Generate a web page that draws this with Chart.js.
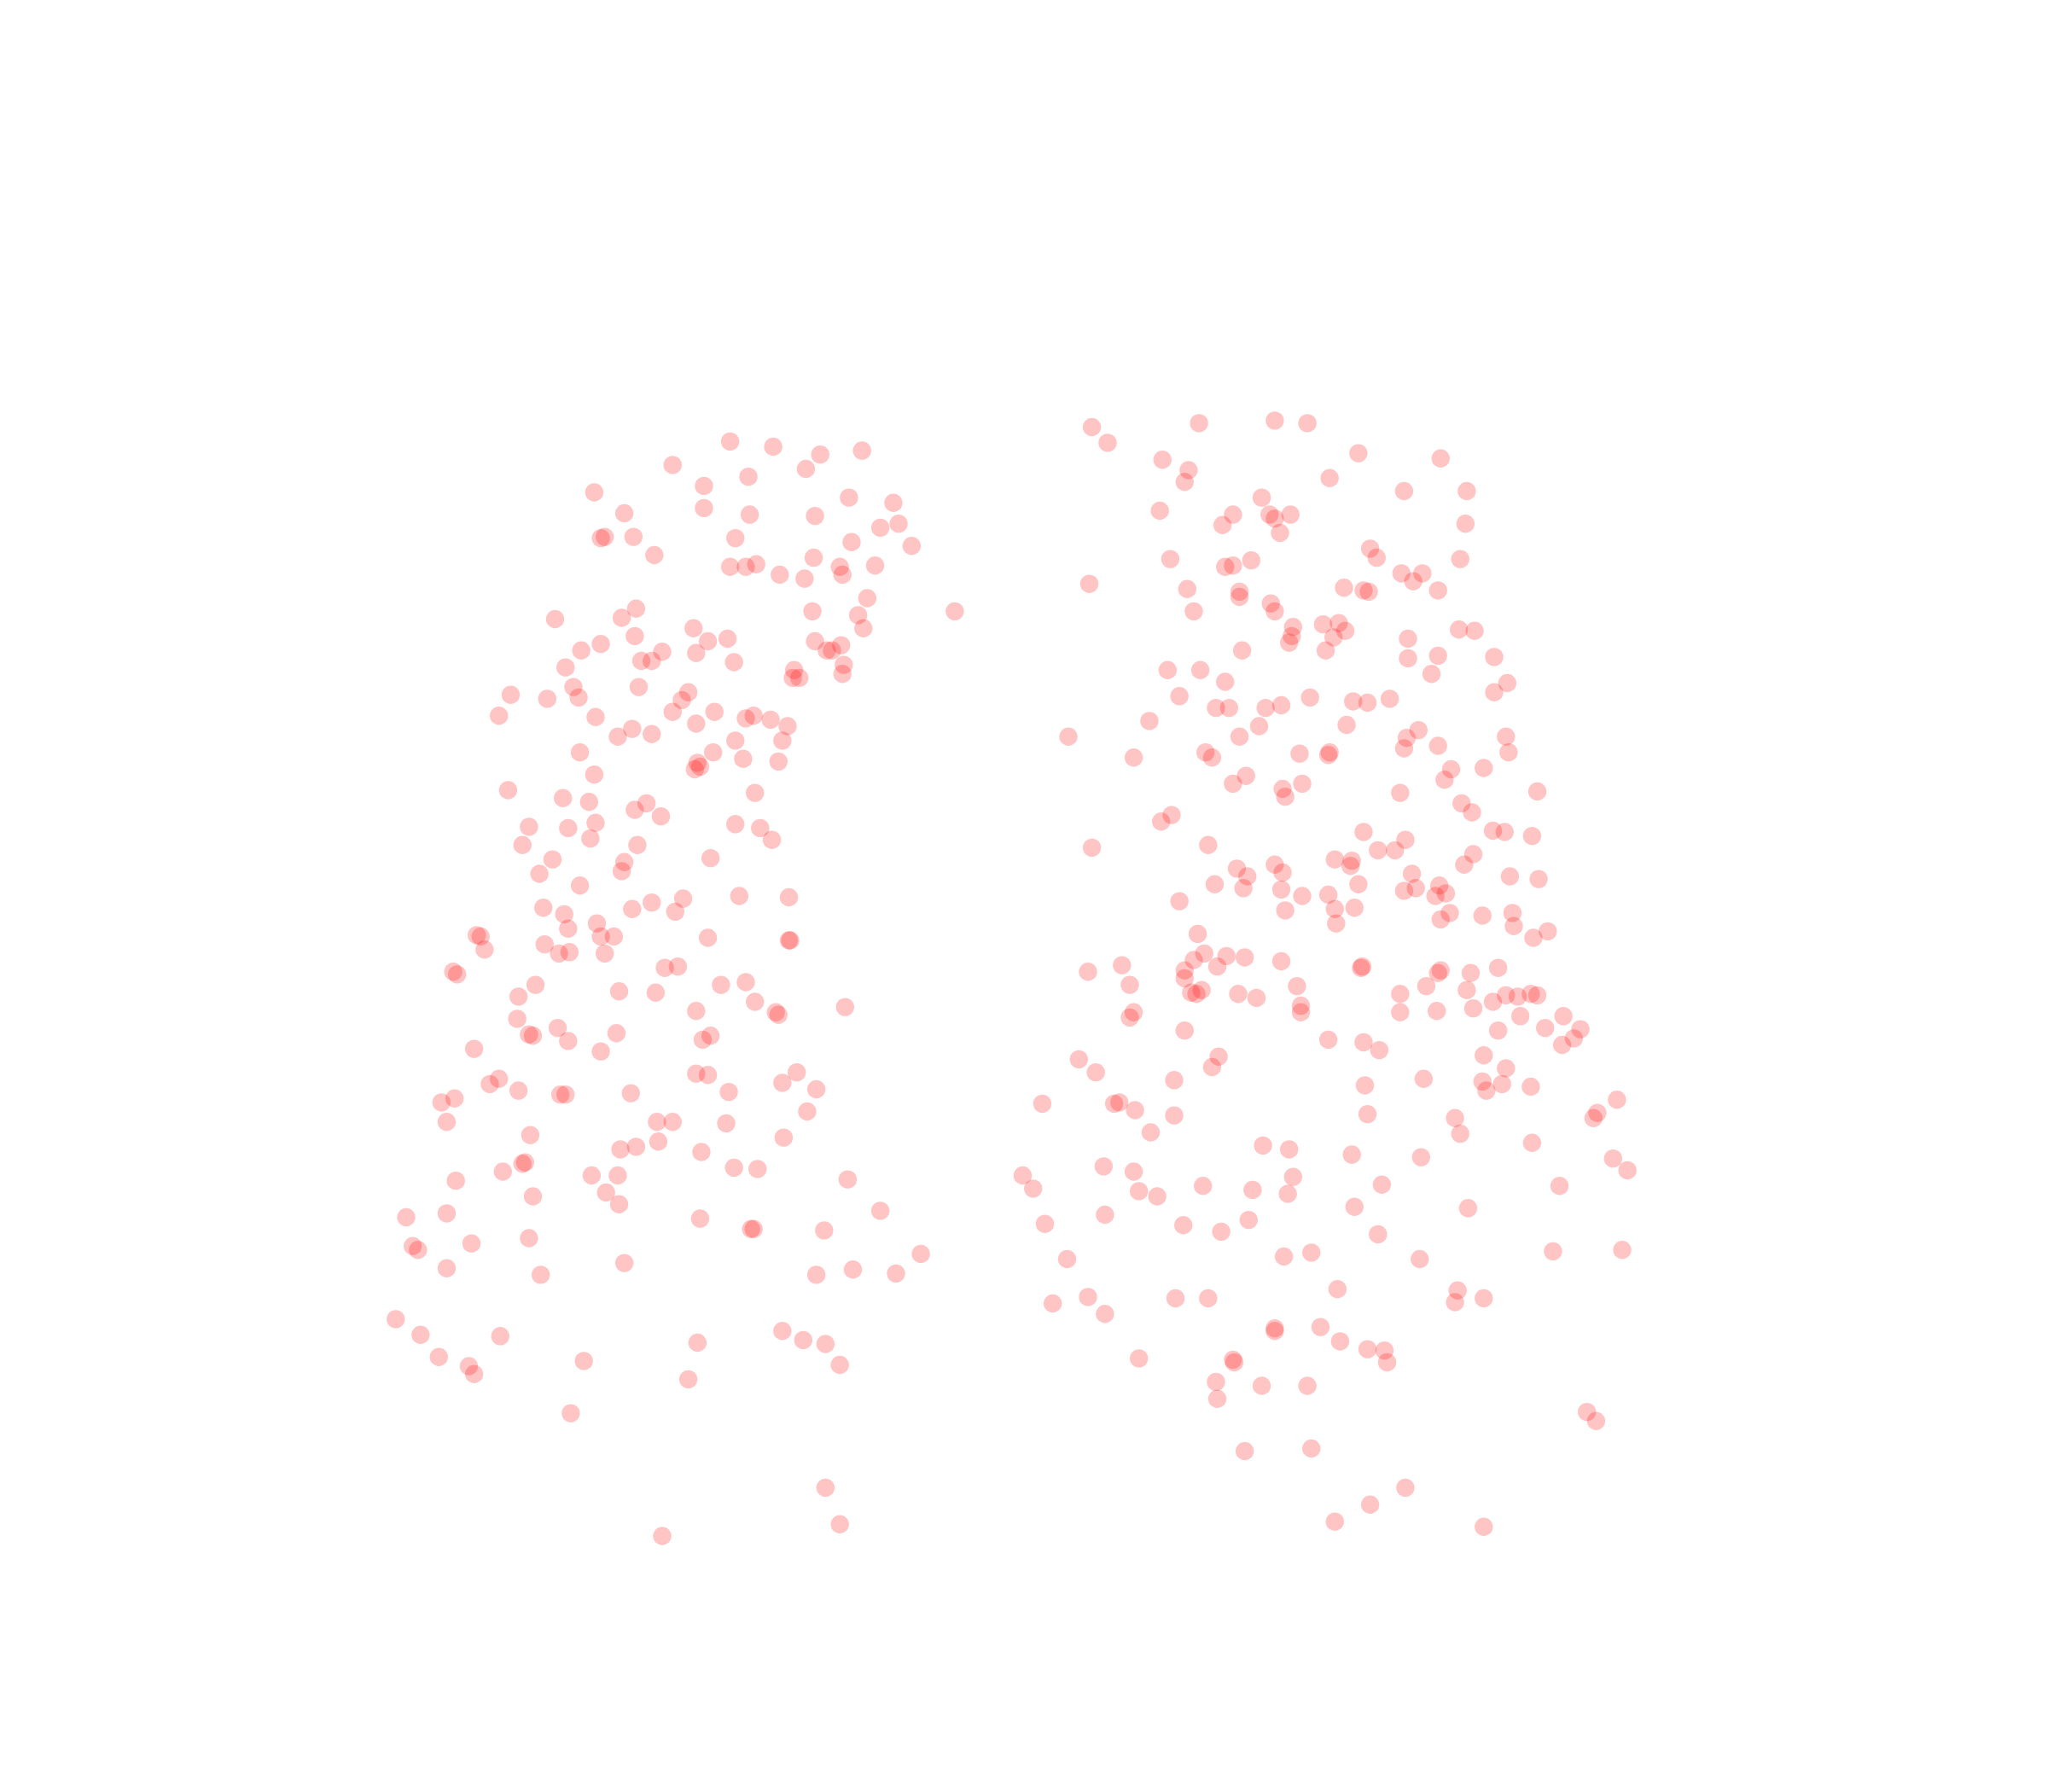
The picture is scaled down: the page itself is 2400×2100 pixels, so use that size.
<!DOCTYPE html>
<html>
<head>
<meta charset="utf-8">
<script src="https://cdn.jsdelivr.net/npm/chart.js@4"></script>
<style>
  html, body { margin: 0; padding: 0; background: #fff; }
  #wrap { width: 2400px; height: 2100px; }
</style>
</head>
<body>
<div id="wrap"><canvas id="chart"></canvas></div>
<script>
// values, as [x, y]
const leftPoints = [
  [559,338],[592,342],[628,348],[660,345],[515,356],[617,359],[573,365],[539,372],[455,377],[650,381],
  [684,385],[539,389],[478,393],[574,394],[624,395],[688,401],[674,404],[460,412],[463,411],[485,411],
  [563,412],[652,415],[698,418],[501,425],[623,427],[559,434],[571,434],[579,432],[643,434],[670,433],
  [597,440],[616,443],[645,440],[664,458],[731,468],[622,468],[657,471],[661,481],[425,474],[476,473],
  [487,466],[531,481],[486,487],[557,489],[542,491],[460,493],[624,491],[644,494],[633,498],[637,498],
  [445,498],[507,499],[533,500],[491,506],[499,506],[562,507],[646,509],[433,511],[608,513],[645,516],
  [607,519],[612,519],[439,526],[489,526],[527,530],[391,532],[443,534],[419,535],[522,536],[515,545],
  [547,545],[382,548],[456,549],[571,550],[577,548],[590,551],[533,554],[603,556],[484,558],[499,562],
  [473,564],[563,567],[599,567],[444,576],[546,576],[569,581],[596,583],[534,584],[536,587],[532,589],
  [455,593],[389,605],[578,607],[431,611],[451,614],[495,615],[486,620],[506,625],[456,630],[563,631],
  [405,633],[435,634],[582,634],[591,643],[452,642],[400,647],[488,647],[423,658],[544,657],[478,660],
  [476,667],[413,669],[444,678],[566,686],[604,687],[523,688],[499,691],[484,696],[416,695],[517,698],
  [432,700],[457,707],[435,711],[365,716],[368,717],[460,717],[470,717],[542,718],[604,720],[605,720],
  [417,723],[371,727],[428,730],[436,729],[463,730],[519,740],[509,741],[347,744],[350,746],[410,754],
  [552,754],[571,752],[474,759],[502,760],[397,763],[578,767],[533,774],[647,771],[594,775],[596,777],
  [396,780],[427,787],[405,792],[408,793],[472,791],[435,797],[544,793],[538,796],[363,803],[460,805],
  [533,822],[542,823],[610,821],[382,826],[375,830],[599,829],[397,835],[429,838],[433,838],[483,837],
  [558,836],[625,834],[348,841],[338,844],[618,851],[342,859],[503,859],[515,859],[556,860],[406,869],
  [504,874],[600,871],[475,880],[487,878],[537,882],[402,890],[400,891],[385,897],[562,894],[580,895],
  [453,900],[473,900],[649,903],[349,904],[464,913],[408,916],[474,922],[674,927],[311,932],[342,929],
  [536,933],[575,941],[577,941],[631,942],[405,948],[361,952],[316,954],[320,957],[705,960],[342,971],
  [478,967],[414,976],[625,976],[653,972],[686,975],[303,1010],[322,1022],[599,1019],[383,1023],[615,1026],
  [534,1028],[632,1029],[336,1039],[447,1042],[643,1045],[359,1046],[363,1052],[527,1056],[437,1082],
  [632,1139],[643,1167],[507,1176]
]
const rightPoints = [
  [836,327],[918,324],[976,322],[1001,324],[848,339],[1040,347],[890,352],[1103,351],[910,360],[907,369],
  [1018,366],[1075,376],[1123,376],[966,381],[888,391],[944,394],[972,394],[976,397],[988,394],[1122,401],
  [936,402],[980,408],[1049,420],[1054,427],[896,428],[958,429],[1118,428],[938,434],[944,433],[1073,439],
  [1089,439],[1082,445],[834,447],[909,451],[949,453],[949,457],[1029,450],[1044,452],[1048,453],[1101,452],
  [973,462],[976,468],[914,468],[1013,478],[1025,477],[1030,483],[990,480],[989,487],[987,492],[1021,488],
  [1117,482],[1129,483],[1078,489],[951,498],[1015,498],[1101,502],[1078,504],[1144,503],[894,513],[919,513],
  [1096,516],[938,522],[1154,523],[1144,530],[903,533],[1003,534],[1036,537],[1047,538],[1064,535],[931,542],
  [941,542],[969,542],[981,540],[880,552],[964,556],[1031,555],[1086,559],[818,564],[1153,564],[949,564],
  [1077,565],[1075,573],[1101,571],[923,576],[928,580],[868,580],[995,577],[1018,576],[1017,578],[1155,576],
  [1136,588],[1111,589],[954,594],[1106,597],[944,600],[997,600],[982,604],[984,610],[1072,607],[1177,606],
  [1119,615],[897,624],[889,629],[1127,622],[1044,637],[1143,636],[1152,637],[1173,640],[1076,643],[925,647],
  [836,649],[1055,651],[1068,651],[1128,654],[1022,658],[1035,659],[1034,663],[976,662],[947,665],[982,668],
  [1121,662],[955,671],[1081,669],[1156,671],[1178,673],[930,677],[952,680],[981,681],[1040,677],[1075,682],
  [1084,680],[1102,678],[1107,684],[1099,686],[997,686],[1017,685],[903,690],[1037,695],[1022,696],[984,697],
  [1135,701],[1110,699],[1158,699],[1103,704],[1023,707],[1159,709],[1185,713],[917,715],[1174,718],[922,730],
  [953,733],[939,732],[914,735],[981,736],[932,740],[859,739],[1043,740],[1042,741],[907,743],[833,744],
  [1103,743],[1101,745],[1126,745],[1147,741],[907,749],[865,754],[993,755],[1092,755],[1123,758],[912,760],
  [916,761],[920,758],[948,761],[962,764],[1072,761],[1153,762],[1162,763],[1172,761],[1177,762],[1143,767],
  [996,770],[868,775],[865,779],[996,775],[1072,775],[1100,774],[1128,772],[1197,778],[1164,778],[1183,787],
  [907,789],[1210,788],[1147,789],[1205,795],[1196,800],[1017,796],[1044,798],[1056,804],[933,809],[1136,808],
  [826,811],[928,817],[1153,818],[839,821],[899,827],[1090,826],[1135,828],[1150,830],[1045,831],[1172,832],
  [1138,835],[1238,842],[798,845],[853,845],[857,844],[869,850],[1047,853],[899,854],[1223,852],[1220,856],
  [1114,856],[881,867],[1118,868],[967,877],[987,880],[1173,875],[1035,884],[1088,886],[1235,887],[845,893],
  [868,897],[1246,896],[783,900],[990,901],[791,910],[921,908],[959,911],[986,914],[1058,907],[1194,908],
  [872,912],[886,916],[1037,924],[1124,925],[846,930],[800,937],[906,938],[956,934],[935,943],[1055,945],
  [1189,958],[1242,957],[817,964],[983,962],[1004,959],[1087,964],[1024,987],[1116,988],[1136,994],[1114,997],
  [833,993],[900,994],[925,994],[806,998],[846,1006],[976,1017],[976,1019],[1011,1016],[1026,1027],[1047,1033],
  [1060,1034],[872,1040],[944,1041],[945,1043],[1062,1043],[931,1058],[966,1061],[1001,1061],[932,1071],
  [1215,1081],[1222,1088],[953,1111],[1004,1109],[1076,1139],[1049,1152],[1022,1165],[1136,1169]
]

const toXY = pts => pts.map(p => ({ x: p[0], y: p[1] }))

new Chart(document.querySelector('#chart'), {
  type: 'scatter',
  data: {
    datasets: [
      { data: toXY(leftPoints) },
      { data: toXY(rightPoints) }
    ]
  },
  options: {
    responsive: true,
    maintainAspectRatio: false,
    animation: false,
    layout: { padding: 0, autoPadding: false },
    elements: {
      point: {
        radius: 10.7,
        borderWidth: 0,
        backgroundColor: 'rgba(255, 0, 0, 0.23)'
      }
    },
    plugins: {
      legend: { display: false },
      tooltip: { enabled: false }
    },
    scales: {
      x: { display: false, min: 0, max: 1568 },
      y: { display: false, min: 0, max: 1372, reverse: true }
    }
  }
})
</script>
</body>
</html>
